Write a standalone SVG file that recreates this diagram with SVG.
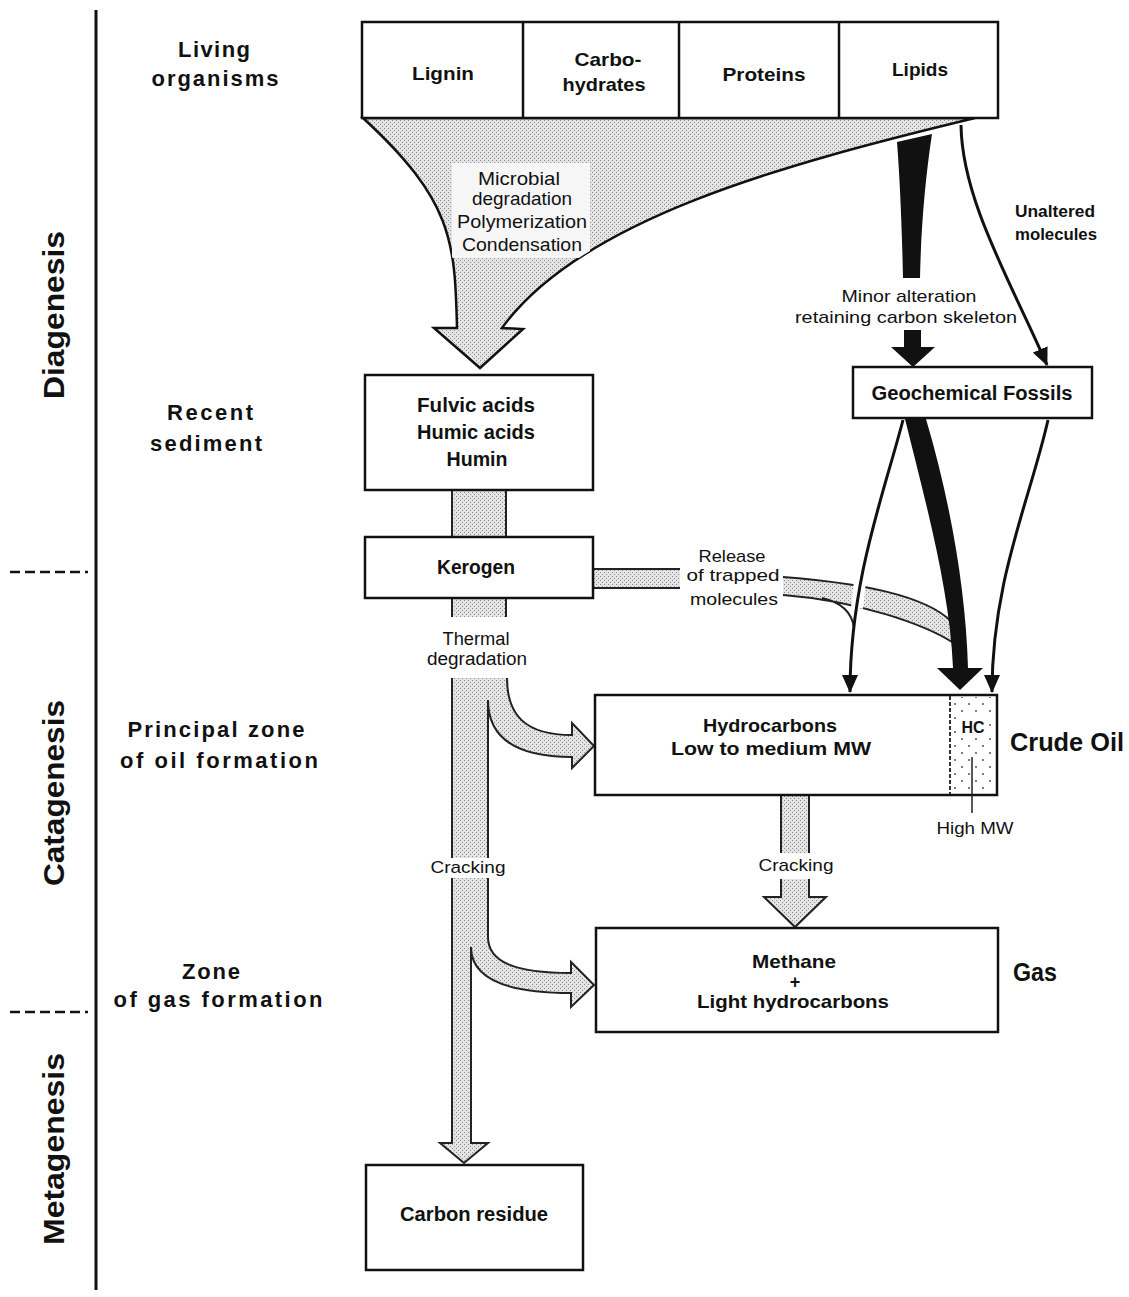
<svg xmlns="http://www.w3.org/2000/svg" width="1129" height="1297" viewBox="0 0 1129 1297">
<defs>
<pattern id="stip" width="4" height="4" patternUnits="userSpaceOnUse">
<rect width="4" height="4" fill="#e4e4e4"/>
<rect x="0" y="0" width="1" height="1" fill="#8a8a8a"/>
<rect x="2" y="2" width="1" height="1" fill="#8a8a8a"/>
</pattern>
<pattern id="dots" width="14" height="14" patternUnits="userSpaceOnUse">
<rect width="14" height="14" fill="#fff"/>
<circle cx="3" cy="4" r="1" fill="#555"/>
<circle cx="10" cy="11" r="1" fill="#555"/>
</pattern>
<marker id="ah" viewBox="0 0 18 16" refX="17" refY="8" markerWidth="18" markerHeight="16" orient="auto" markerUnits="userSpaceOnUse">
<path d="M0,0 L18,8 L0,16 Z" fill="#111"/>
</marker>
<clipPath id="funnelClip">
<path d="M363,118 L975,118 C 780,165 580,220 502,328 L523,329 L480,368 L434,328 L457,328 C 455,240 452,200 363,118 Z"/>
</clipPath>
</defs>
<style>
.box{fill:#fff;stroke:#111;stroke-width:2.5}
.t{font-family:"Liberation Sans",Arial,sans-serif;fill:#111;text-anchor:middle}
.b{font-weight:bold}
.shade{fill:url(#stip)}
.edge{fill:none;stroke:#222;stroke-width:2}
.thin{fill:none;stroke:#111;stroke-width:3}
.solid{fill:#111;stroke:none}
</style>
<rect width="1129" height="1297" fill="#fff"/>

<!-- stage axis -->
<g id="axis">
<line x1="96" y1="10" x2="96" y2="1290" stroke="#111" stroke-width="3"/>
<line x1="10" y1="572" x2="88" y2="572" stroke="#111" stroke-width="2.5" stroke-dasharray="10 5"/>
<line x1="10" y1="1012" x2="88" y2="1012" stroke="#111" stroke-width="2.5" stroke-dasharray="10 5"/>
<text class="t b" font-size="29" transform="translate(64,315) rotate(-90)" textLength="168" lengthAdjust="spacingAndGlyphs">Diagenesis</text>
<text class="t b" font-size="29" transform="translate(64,793) rotate(-90)" textLength="186" lengthAdjust="spacingAndGlyphs">Catagenesis</text>
<text class="t b" font-size="29" transform="translate(64,1149) rotate(-90)" textLength="192" lengthAdjust="spacingAndGlyphs">Metagenesis</text>
</g>

<!-- zone labels -->
<g id="zone-labels">
<text class="t b" font-size="22" x="214" y="57" textLength="72" lengthAdjust="spacing">Living</text>
<text class="t b" font-size="22" x="215" y="86" textLength="127" lengthAdjust="spacing">organisms</text>
<text class="t b" font-size="22" x="210" y="420" textLength="86" lengthAdjust="spacing">Recent</text>
<text class="t b" font-size="22" x="206" y="451" textLength="112" lengthAdjust="spacing">sediment</text>
<text class="t b" font-size="22" x="216" y="737" textLength="177" lengthAdjust="spacing">Principal zone</text>
<text class="t b" font-size="22" x="219" y="768" textLength="198" lengthAdjust="spacing">of oil formation</text>
<text class="t b" font-size="22" x="211" y="979" textLength="58" lengthAdjust="spacing">Zone</text>
<text class="t b" font-size="22" x="218" y="1007" textLength="209" lengthAdjust="spacing">of gas formation</text>
</g>

<!-- connectors -->
<g id="connectors">
<!-- funnel from organisms to recent sediment -->
<path d="M363,118 L975,118 C 780,165 580,220 502,328 L523,329 L480,368 L434,328 L457,328 C 455,240 452,200 363,118 Z" fill="url(#stip)" stroke="#111" stroke-width="2.5"/>
<rect x="452" y="163" width="138" height="95" fill="#f6f6f6" clip-path="url(#funnelClip)"/>
<text class="t" font-size="19" x="519" y="185" textLength="82" lengthAdjust="spacingAndGlyphs">Microbial</text>
<text class="t" font-size="19" x="522" y="205" textLength="100" lengthAdjust="spacingAndGlyphs">degradation</text>
<text class="t" font-size="19" x="522" y="228" textLength="130" lengthAdjust="spacingAndGlyphs">Polymerization</text>
<text class="t" font-size="19" x="522" y="251" textLength="120" lengthAdjust="spacingAndGlyphs">Condensation</text>

<!-- minor alteration (black) -->
<path d="M897,142 L932,134 C 925,180 921,230 920,278 L903,278 C 902,230 900,180 897,142 Z" class="solid"/>
<text class="t" font-size="17" x="909" y="302" textLength="135" lengthAdjust="spacingAndGlyphs">Minor alteration</text>
<text class="t" font-size="17" x="906" y="323" textLength="222" lengthAdjust="spacingAndGlyphs">retaining carbon skeleton</text>
<path d="M904,330 L921,330 L921,347 L935,347 L913,367 L891,347 L904,347 Z" class="solid"/>

<!-- unaltered molecules -->
<path d="M961,125 C 962,200 1010,280 1047,365" class="thin" marker-end="url(#ah)"/>
<text class="t b" font-size="16" x="1055" y="217" textLength="80" lengthAdjust="spacingAndGlyphs">Unaltered</text>
<text class="t b" font-size="16" x="1056" y="240" textLength="82" lengthAdjust="spacingAndGlyphs">molecules</text>

<!-- fulvic to kerogen -->
<rect x="452" y="490" width="54" height="47" class="shade"/>
<path d="M452,490 V537 M506,490 V537" class="edge"/>
<rect x="452" y="598" width="54" height="19" class="shade"/>
<path d="M452,598 V617 M506,598 V617" class="edge"/>
<text class="t" font-size="18" x="476" y="645" textLength="67" lengthAdjust="spacingAndGlyphs">Thermal</text>
<text class="t" font-size="18" x="477" y="665" textLength="100" lengthAdjust="spacingAndGlyphs">degradation</text>

<!-- main stem with branches -->
<path d="M452,678 L507,678 C 507,715 525,735 572,735 L572,723 L594,746 L572,768 L572,757 C 520,757 488,740 488,700 L488,937 C 488,962 515,973 571,973 L571,962 L594,985 L571,1007 L571,993 C 505,993 471,978 471,947 L471,1143 L488,1143 L464,1163 L440,1143 L452,1143 Z" class="shade"/>
<path d="M507,678 C 507,715 525,735 572,735 L572,723 L594,746 L572,768 L572,757 C 520,757 488,740 488,700 L488,937 C 488,962 515,973 571,973 L571,962 L594,985 L571,1007 L571,993 C 505,993 471,978 471,947 L471,1143 L488,1143 L464,1163 L440,1143 L452,1143 L452,678" class="edge"/>
<rect x="440" y="858" width="66" height="20" fill="#fff"/>
<text class="t" font-size="17" x="468" y="873" textLength="75" lengthAdjust="spacingAndGlyphs">Cracking</text>

<!-- cracking oil to gas -->
<rect x="781" y="795" width="28" height="58" class="shade"/>
<path d="M781,795 V853 M809,795 V853" class="edge"/>
<path d="M781,879 L809,879 L809,897 L826,897 L795,927 L764,897 L781,897 Z" class="shade"/>
<path d="M781,879 L781,897 L764,897 L795,927 L826,897 L809,897 L809,879" class="edge"/>
<text class="t" font-size="17" x="796" y="871" textLength="75" lengthAdjust="spacingAndGlyphs">Cracking</text>

<!-- release of trapped molecules -->
<rect x="593" y="569" width="87" height="19" class="shade"/>
<path d="M593,569 H680 M593,588 H680" class="edge"/>
<text class="t" font-size="17" x="732" y="562" textLength="67" lengthAdjust="spacingAndGlyphs">Release</text>
<text class="t" font-size="17" x="733" y="581" textLength="93" lengthAdjust="spacingAndGlyphs">of trapped</text>
<text class="t" font-size="17" x="734" y="605" textLength="88" lengthAdjust="spacingAndGlyphs">molecules</text>
<path d="M783,577 C 860,583 925,595 952,622 L952,642 C 925,625 860,601 783,595 Z" class="shade"/>
<path d="M783,577 C 860,583 925,595 952,622 M783,595 C 860,601 925,625 952,642 M822,598 C 840,602 852,612 854,628" class="edge"/>
<line x1="861" y1="572" x2="857" y2="608" stroke="#fff" stroke-width="12"/>

<!-- geochemical fossils to crude oil -->
<path d="M903,420 C 885,490 850,580 850,692" class="thin" marker-end="url(#ah)"/>
<path d="M905,419 L926,419 C 950,500 966,590 968,668 L983,668 L960,690 L937,668 L953,668 C 950,590 925,500 905,419 Z" class="solid"/>
<path d="M1048,420 C 1030,500 992,580 992,692" class="thin" marker-end="url(#ah)"/>
</g>

<!-- nodes -->
<g id="organisms">
<rect x="362" y="22" width="636" height="96" class="box"/>
<path d="M523,22 V118 M679,22 V118 M839,22 V118" stroke="#111" stroke-width="2.5"/>
<text class="t b" font-size="19" x="443" y="80" textLength="62" lengthAdjust="spacingAndGlyphs">Lignin</text>
<text class="t b" font-size="19" x="608" y="66" textLength="67" lengthAdjust="spacingAndGlyphs">Carbo-</text>
<text class="t b" font-size="19" x="604" y="91" textLength="83" lengthAdjust="spacingAndGlyphs">hydrates</text>
<text class="t b" font-size="19" x="764" y="81" textLength="83" lengthAdjust="spacingAndGlyphs">Proteins</text>
<text class="t b" font-size="19" x="920" y="76" textLength="56" lengthAdjust="spacingAndGlyphs">Lipids</text>
</g>

<g id="recent-sediment">
<rect x="365" y="375" width="228" height="115" class="box"/>
<text class="t b" font-size="21" x="476" y="412" textLength="118" lengthAdjust="spacingAndGlyphs">Fulvic acids</text>
<text class="t b" font-size="21" x="476" y="439" textLength="118" lengthAdjust="spacingAndGlyphs">Humic acids</text>
<text class="t b" font-size="21" x="477" y="466" textLength="61" lengthAdjust="spacingAndGlyphs">Humin</text>
</g>

<g id="kerogen">
<rect x="365" y="537" width="228" height="61" class="box"/>
<text class="t b" font-size="20" x="476" y="574" textLength="78" lengthAdjust="spacingAndGlyphs">Kerogen</text>
</g>

<g id="geochemical-fossils">
<rect x="853" y="367" width="239" height="51" class="box"/>
<text class="t b" font-size="20" x="972" y="400" textLength="201" lengthAdjust="spacingAndGlyphs">Geochemical Fossils</text>
</g>

<g id="hydrocarbons">
<rect x="595" y="695" width="402" height="100" class="box"/>
<rect x="951" y="697" width="44" height="96" fill="url(#dots)"/>
<line x1="950" y1="696" x2="950" y2="794" stroke="#333" stroke-width="2" stroke-dasharray="4 2"/>
<text class="t b" font-size="19" x="770" y="732" textLength="134" lengthAdjust="spacingAndGlyphs">Hydrocarbons</text>
<text class="t b" font-size="19" x="771" y="755" textLength="200" lengthAdjust="spacingAndGlyphs">Low to medium MW</text>
<rect x="960" y="716" width="26" height="20" fill="#fff"/>
<text class="t b" font-size="16" x="973" y="733" textLength="23" lengthAdjust="spacingAndGlyphs">HC</text>
<line x1="972" y1="757" x2="972" y2="813" stroke="#222" stroke-width="1.5"/>
<text class="t" font-size="16" x="975" y="834" textLength="77" lengthAdjust="spacingAndGlyphs">High MW</text>
<text class="t b" font-size="25" x="1067" y="751" textLength="114" lengthAdjust="spacingAndGlyphs">Crude Oil</text>
</g>

<g id="gas">
<rect x="596" y="928" width="402" height="104" class="box"/>
<text class="t b" font-size="19" x="794" y="968" textLength="84" lengthAdjust="spacingAndGlyphs">Methane</text>
<text class="t b" font-size="18" x="795" y="988">+</text>
<text class="t b" font-size="19" x="793" y="1008" textLength="192" lengthAdjust="spacingAndGlyphs">Light hydrocarbons</text>
<text class="t b" font-size="25" x="1035" y="981" textLength="44" lengthAdjust="spacingAndGlyphs">Gas</text>
</g>

<g id="carbon-residue">
<rect x="366" y="1165" width="217" height="105" class="box"/>
<text class="t b" font-size="20" x="474" y="1221" textLength="148" lengthAdjust="spacingAndGlyphs">Carbon residue</text>
</g>
</svg>
